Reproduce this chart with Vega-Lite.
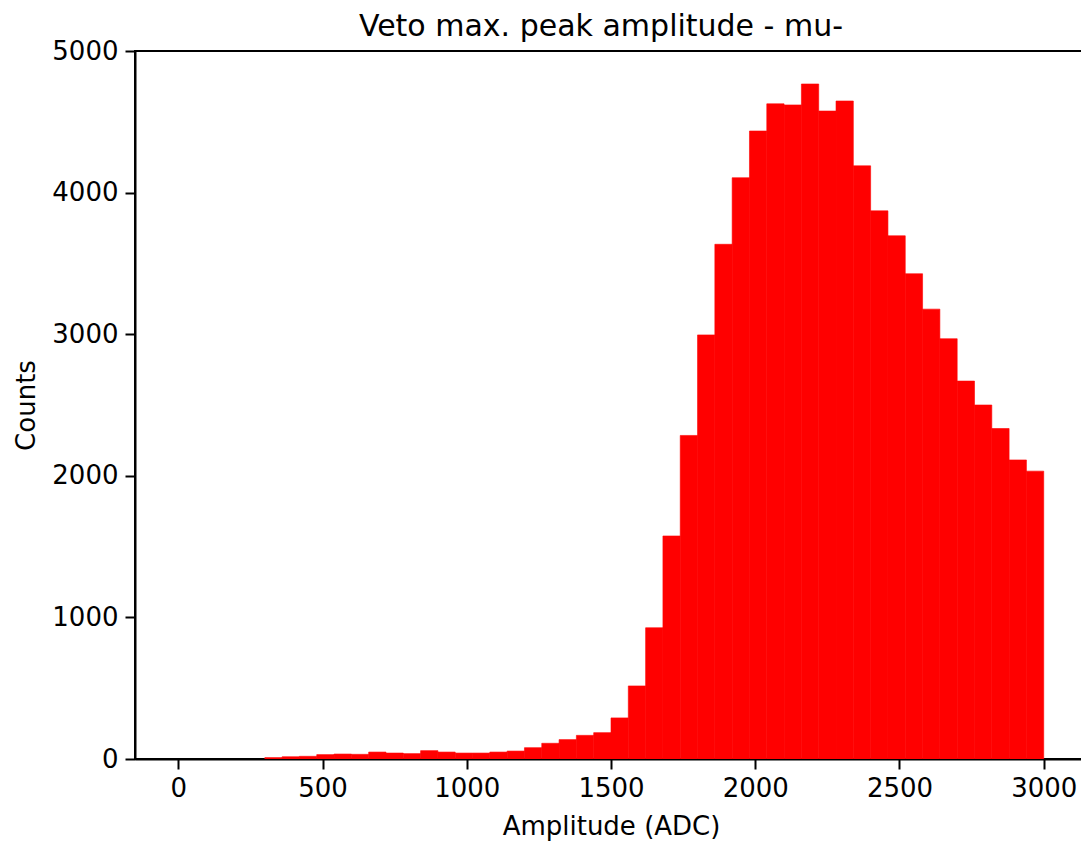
{
  "$schema": "https://vega.github.io/schema/vega-lite/v6.json",
  "autosize": "none",
  "width": 952,
  "height": 708,
  "padding": {"left": 135, "top": 51, "right": 0, "bottom": 84},
  "background": "white",
  "title": {"text": "Veto max. peak amplitude - mu-", "fontSize": 30, "fontWeight": "normal", "font": "DejaVu Sans", "color": "black", "anchor": "middle", "offset": -4, "dx": -10},
  "data": {"values": [
    {"lo": 300, "hi": 360, "count": 10},
    {"lo": 360, "hi": 420, "count": 16},
    {"lo": 420, "hi": 480, "count": 19},
    {"lo": 480, "hi": 540, "count": 31},
    {"lo": 540, "hi": 600, "count": 35},
    {"lo": 600, "hi": 660, "count": 33},
    {"lo": 660, "hi": 720, "count": 49},
    {"lo": 720, "hi": 780, "count": 42},
    {"lo": 780, "hi": 840, "count": 38},
    {"lo": 840, "hi": 900, "count": 59},
    {"lo": 900, "hi": 960, "count": 49},
    {"lo": 960, "hi": 1020, "count": 42},
    {"lo": 1020, "hi": 1080, "count": 42},
    {"lo": 1080, "hi": 1140, "count": 49},
    {"lo": 1140, "hi": 1200, "count": 56},
    {"lo": 1200, "hi": 1260, "count": 80},
    {"lo": 1260, "hi": 1320, "count": 111},
    {"lo": 1320, "hi": 1380, "count": 137},
    {"lo": 1380, "hi": 1440, "count": 167},
    {"lo": 1440, "hi": 1500, "count": 186},
    {"lo": 1500, "hi": 1560, "count": 290},
    {"lo": 1560, "hi": 1620, "count": 516},
    {"lo": 1620, "hi": 1680, "count": 927},
    {"lo": 1680, "hi": 1740, "count": 1575},
    {"lo": 1740, "hi": 1800, "count": 2285},
    {"lo": 1800, "hi": 1860, "count": 2995},
    {"lo": 1860, "hi": 1920, "count": 3635},
    {"lo": 1920, "hi": 1980, "count": 4105},
    {"lo": 1980, "hi": 2040, "count": 4435},
    {"lo": 2040, "hi": 2100, "count": 4627},
    {"lo": 2100, "hi": 2160, "count": 4619},
    {"lo": 2160, "hi": 2220, "count": 4767},
    {"lo": 2220, "hi": 2280, "count": 4576},
    {"lo": 2280, "hi": 2340, "count": 4647},
    {"lo": 2340, "hi": 2400, "count": 4189},
    {"lo": 2400, "hi": 2460, "count": 3871},
    {"lo": 2460, "hi": 2520, "count": 3695},
    {"lo": 2520, "hi": 2580, "count": 3427},
    {"lo": 2580, "hi": 2640, "count": 3177},
    {"lo": 2640, "hi": 2700, "count": 2968},
    {"lo": 2700, "hi": 2760, "count": 2669},
    {"lo": 2760, "hi": 2820, "count": 2500},
    {"lo": 2820, "hi": 2880, "count": 2334},
    {"lo": 2880, "hi": 2940, "count": 2112},
    {"lo": 2940, "hi": 3000, "count": 2033}
  ]},
  "mark": {"type": "bar", "color": "#ff0000", "stroke": "#ff0000", "strokeWidth": 0.6, "clip": true},
  "encoding": {
    "x": {"field": "lo", "type": "quantitative",
      "scale": {"domain": [-150, 3150], "nice": false, "zero": false},
      "axis": {"title": "Amplitude (ADC)", "values": [0, 500, 1000, 1500, 2000, 2500, 3000], "format": "d", "labelPadding": 6, "titlePadding": 12}},
    "x2": {"field": "hi"},
    "y": {"field": "count", "type": "quantitative",
      "scale": {"domain": [0, 5000], "nice": false},
      "axis": {"title": "Counts", "values": [0, 1000, 2000, 3000, 4000, 5000], "format": "d", "labelPadding": 7, "titlePadding": 12}},
    "y2": {"datum": 0}
  },
  "config": {
    "font": "DejaVu Sans",
    "view": {"stroke": "black", "strokeWidth": 2},
    "axis": {
      "grid": false,
      "domainColor": "black", "domainWidth": 2,
      "tickColor": "black", "tickWidth": 2, "tickSize": 10,
      "labelFont": "DejaVu Sans", "labelFontSize": 26, "labelColor": "black",
      "titleFont": "DejaVu Sans", "titleFontSize": 26, "titleColor": "black", "titleFontWeight": "normal"
    }
  }
}
